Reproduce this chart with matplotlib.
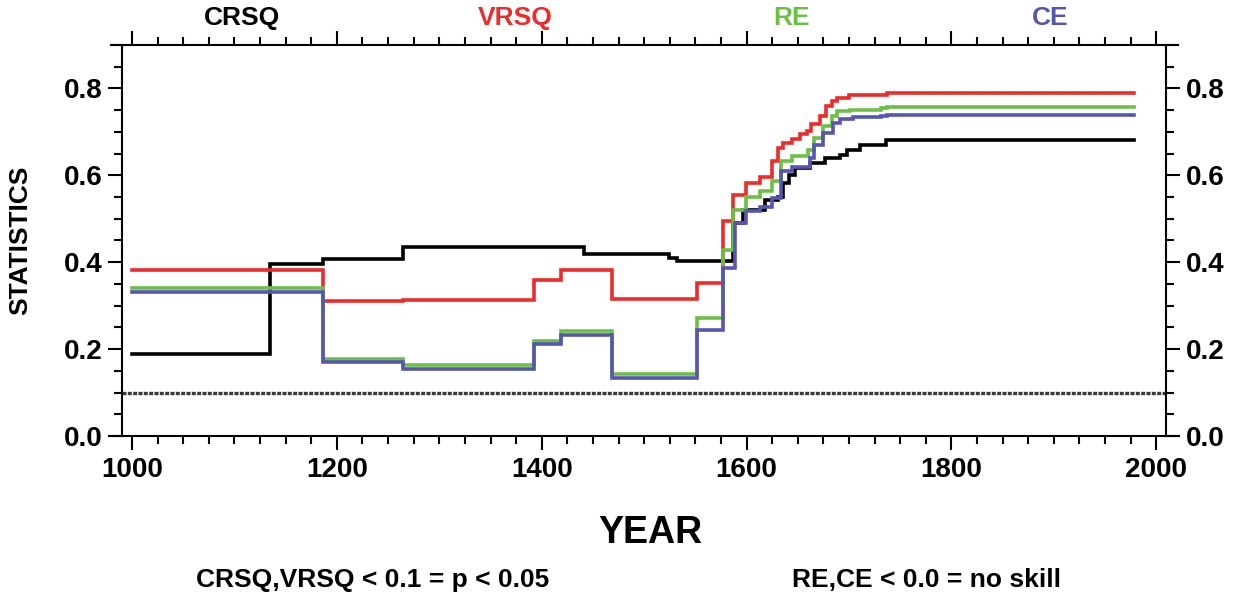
import matplotlib
matplotlib.use("Agg")
import matplotlib.pyplot as plt
from matplotlib.ticker import MultipleLocator

plt.rcParams['font.family'] = ['Liberation Sans', 'DejaVu Sans']
plt.rcParams['font.weight'] = 'bold'

# step series (year where a value starts, value)
crsq_years = [1000, 1135, 1186, 1265, 1441, 1524, 1532, 1587, 1597, 1618, 1631, 1636,
              1641, 1647, 1662, 1677, 1691, 1698, 1711, 1736, 1978]
crsq_vals = [0.189, 0.395, 0.407, 0.436, 0.420, 0.410, 0.403, 0.490, 0.520, 0.544, 0.550, 0.582,
             0.601, 0.617, 0.628, 0.640, 0.647, 0.659, 0.670, 0.682, 0.682]

vrsq_years = [1000, 1186, 1265, 1392, 1419, 1469, 1552, 1577, 1587, 1599, 1613, 1625, 1631,
              1636, 1644, 1652, 1659, 1663, 1672, 1678, 1683, 1688, 1700, 1737, 1978]
vrsq_vals = [0.383, 0.310, 0.314, 0.359, 0.382, 0.315, 0.352, 0.494, 0.555, 0.582, 0.596, 0.632, 0.663,
             0.673, 0.683, 0.694, 0.701, 0.717, 0.736, 0.759, 0.770, 0.778, 0.784, 0.788, 0.788]

re_years = [1000, 1186, 1265, 1392, 1419, 1469, 1552, 1577, 1587, 1599, 1613, 1625, 1634,
            1644, 1660, 1666, 1675, 1683, 1688, 1701, 1731, 1737, 1978]
re_vals = [0.341, 0.178, 0.164, 0.220, 0.241, 0.144, 0.271, 0.427, 0.521, 0.551, 0.563, 0.586, 0.632,
           0.644, 0.659, 0.686, 0.713, 0.736, 0.747, 0.751, 0.754, 0.758, 0.758]

ce_years = [1000, 1186, 1265, 1392, 1419, 1469, 1552, 1577, 1589, 1599, 1613, 1625, 1634,
            1644, 1662, 1666, 1675, 1684, 1691, 1704, 1731, 1737, 1978]
ce_vals = [0.332, 0.170, 0.154, 0.211, 0.233, 0.133, 0.244, 0.386, 0.490, 0.517, 0.528, 0.548, 0.609,
           0.620, 0.640, 0.670, 0.697, 0.720, 0.730, 0.733, 0.736, 0.739, 0.739]

threshold = 0.1
names = ["CRSQ", "VRSQ", "RE", "CE"]
colors = ["#000000", "#ee2a2a", "#6cbf45", "#5656b0"]
label_x = [242, 515, 792, 1050]

fig = plt.figure(figsize=(12.38, 6.05), dpi=100)
ax = fig.add_axes([0.0893, 0.279, 0.862, 0.647])

series = [(crsq_years, crsq_vals), (vrsq_years, vrsq_vals), (re_years, re_vals), (ce_years, ce_vals)]
for (yrs, vals), c in zip(series, colors):
    ax.plot(yrs, vals, drawstyle='steps-post', color=c, lw=2.6, solid_joinstyle='miter')

ax.hlines(threshold, 990, 2010, color='#3a3a3a', lw=2.4, linestyle=(0, (1.2, 0.4)))

ax.set_xlim(979, 2021)
ax.set_ylim(0, 0.9)
ax.spines['left'].set_position(('data', 990))
ax.spines['right'].set_position(('data', 2010))
for s in ax.spines.values():
    s.set_linewidth(1.5)

ax.xaxis.set_major_locator(MultipleLocator(200))
ax.xaxis.set_minor_locator(MultipleLocator(25))
ax.yaxis.set_major_locator(MultipleLocator(0.2))
ax.yaxis.set_minor_locator(MultipleLocator(0.05))
ax.yaxis.set_major_formatter(matplotlib.ticker.FormatStrFormatter('%.1f'))

ax.tick_params(axis='x', which='both', direction='out', top=True, bottom=True,
               labeltop=False, width=1.5)
ax.tick_params(axis='y', which='both', direction='out', left=True, right=True,
               labelright=True, width=1.5)
ax.tick_params(which='major', length=10, labelsize=20, pad=4)
ax.tick_params(axis='x', which='major', pad=5)
ax.tick_params(which='minor', length=6)
for lab in ax.get_xticklabels() + ax.get_yticklabels():
    lab.set_fontweight('bold')

ax.set_ylabel("STATISTICS", fontsize=19, fontweight='bold')
ax.yaxis.set_label_coords(-0.0736, 0.5)

for n, c, x in zip(names, colors, label_x):
    fig.text(x / 1238, 1 - 18 / 605, n, color=c, fontsize=19, fontweight='bold',
             ha='center', va='center')

fig.text(650 / 1238, 1 - 533 / 605, "YEAR", fontsize=27, fontweight='bold', ha='center', va='center')
fig.text(373 / 1238, 1 - 580 / 605, "CRSQ,VRSQ < 0.1 = p < 0.05", fontsize=19, fontweight='bold',
         ha='center', va='center')
fig.text(926 / 1238, 1 - 580 / 605, "RE,CE < 0.0 = no skill", fontsize=19, fontweight='bold',
         ha='center', va='center')

fig.savefig("out.png", dpi=100)
